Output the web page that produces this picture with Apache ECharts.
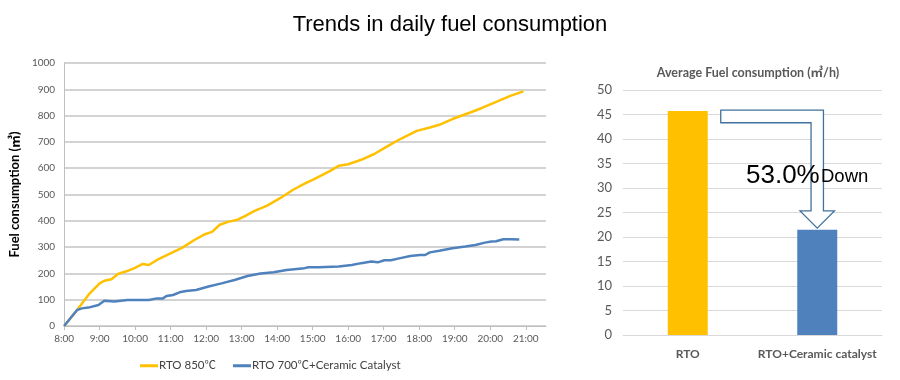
<!DOCTYPE html>
<html>
<head>
<meta charset="utf-8">
<script src="https://cdn.jsdelivr.net/npm/echarts@6/dist/echarts.min.js"></script>
<style>html,body{margin:0;padding:0;background:#fff;}#c{width:900px;height:380px;}</style>
</head>
<body>
<div id="c"></div>
<script>
// ---- data ----
const rtoTimes = ['8:00','8:22','8:41','9:00','9:08','9:20','9:31','9:44','9:59','10:13','10:23','10:37','10:58','11:20','11:40','11:59','12:10','12:23','12:37','12:53','13:04','13:21','13:43','14:05','14:27','14:48','15:00','15:28','15:44','16:00','16:22','16:44','17:06','17:28','17:56','18:18','18:34','18:56','19:24','19:46','20:08','20:35','20:56'];
const rtoValues = [0,61,118,162,172,178,198,207,220,236,232,251,274,298,327,350,358,385,396,404,416,437,458,486,518,543,556,588,609,615,632,654,683,711,742,755,765,787,810,829,850,876,892];
const catTimes = ['8:00','8:22','8:30','8:41','8:58','9:08','9:25','9:47','10:09','10:23','10:37','10:47','10:53','11:04','11:15','11:26','11:43','12:04','12:26','12:48','13:10','13:32','13:54','14:16','14:33','14:46','14:53','15:11','15:44','16:06','16:22','16:39','16:50','17:01','17:12','17:28','17:45','18:01','18:10','18:18','18:34','18:56','19:18','19:35','19:51','20:02','20:10','20:22','20:35','20:49'];
const catValues = [0,61,67,70,80,96,93,99,99,99,105,105,114,118,128,133,137,150,162,175,190,200,204,213,217,220,223,223,226,232,239,245,242,250,250,258,266,270,270,280,286,296,302,308,317,321,322,330,330,329];
const seriesNames = ['RTO 850℃', 'RTO 700℃+Ceramic Catalyst'];
const barCategories = ['RTO', 'RTO+Ceramic catalyst'];
const barValues = [45.7, 21.5];
const reductionText = '53.0%';

(function () {
const YELLOW = '#FFC000', BLUE = '#4F81BD', GRAY = '#595959';
function toHour(s){ const p = s.split(':'); return +p[0] + (+p[1])/60; }
function pairs(ts, vs){ return ts.map((t,i)=>[toHour(t), vs[i]]); }

const chart = echarts.init(document.getElementById('c'));
const option = {
  animation: false,
  backgroundColor: '#fff',
  textStyle: { fontFamily: '"Open Sans", "Noto Sans CJK JP", sans-serif' },
  title: [{
    text: 'Trends in daily fuel consumption',
    left: 'center', top: 9,
    textStyle: { fontFamily: '"Liberation Sans", Arial, sans-serif', fontSize: 22, fontWeight: 'normal', color: '#000' }
  }, {
    text: 'Average Fuel consumption (㎥/h)',
    left: 743, top: 62, textAlign: 'center',
    textStyle: { fontFamily: 'Lato, "Noto Sans CJK JP", sans-serif', fontSize: 12.5, fontWeight: 'bold', color: GRAY }
  }],
  legend: {
    left: 135, top: 355,
    itemWidth: 18, itemHeight: 3, itemGap: 17,
    icon: 'rect',
    textStyle: { fontFamily: 'Lato, "Noto Sans CJK JP", sans-serif', fontSize: 11.5, color: '#404040', padding: [0,0,0,-4] },
    data: seriesNames
  },
  grid: [
    { left: 52, right: 354, top: 63, bottom: 54 },
    { left: 623, right: 18, top: 90, bottom: 45 }
  ],
  xAxis: [{
    gridIndex: 0, type: 'value', min: 8, max: 21.57, interval: 1,
    axisLine: { show: true, lineStyle: { color: '#bfbfbf', width: 1 } },
    axisTick: { show: true, length: 4, lineStyle: { color: '#bfbfbf' } },
    splitLine: { show: false },
    axisLabel: { fontFamily: 'Lato, sans-serif', color: GRAY, fontSize: 10, margin: 8, showMaxLabel: false,
      formatter: v => Math.abs(v - Math.round(v)) < 1e-6 ? Math.round(v) + ':00' : '' }
  }, {
    gridIndex: 1, type: 'category', data: barCategories,
    axisLine: { show: true, lineStyle: { color: '#d9d9d9' } },
    axisTick: { show: false },
    axisLabel: { fontFamily: 'Lato, sans-serif', color: GRAY, fontSize: 12, fontWeight: 'bold', margin: 13, interval: 0 }
  }],
  yAxis: [{
    gridIndex: 0, type: 'value', min: 0, max: 1000, interval: 100,
    name: 'Fuel consumption (㎥)', nameLocation: 'middle', nameGap: 38,
    nameTextStyle: { fontFamily: 'Lato, "Noto Sans CJK JP", sans-serif', fontSize: 13, fontWeight: 'bold', color: '#000' },
    axisLine: { show: true, lineStyle: { color: '#bfbfbf' } },
    axisTick: { show: false },
    axisLabel: { fontFamily: 'Lato, sans-serif', color: GRAY, fontSize: 10, margin: 9, formatter: v => String(v) },
    splitLine: { lineStyle: { color: '#c4c4c4', width: 1.5 } }
  }, {
    gridIndex: 1, type: 'value', min: 0, max: 50, interval: 5,
    axisLine: { show: false }, axisTick: { show: false },
    axisLabel: { fontFamily: 'Lato, sans-serif', color: GRAY, fontSize: 13, margin: 11 },
    splitLine: { lineStyle: { color: '#d9d9d9', width: 1 } }
  }],
  series: [{
    name: seriesNames[0], type: 'line', xAxisIndex: 0, yAxisIndex: 0,
    data: pairs(rtoTimes, rtoValues), symbol: 'none',
    lineStyle: { color: YELLOW, width: 2.5 }, itemStyle: { color: YELLOW }, z: 3
  }, {
    name: seriesNames[1], type: 'line', xAxisIndex: 0, yAxisIndex: 0,
    data: pairs(catTimes, catValues), symbol: 'none',
    lineStyle: { color: BLUE, width: 2.5 }, itemStyle: { color: BLUE }, z: 4
  }, {
    type: 'bar', xAxisIndex: 1, yAxisIndex: 1, barWidth: 40,
    data: barValues.map((v,i)=>({ value: v, itemStyle: { color: i===0 ? YELLOW : BLUE } }))
  }]
};
chart.setOption(option);

// annotation arrow, positioned from the bar scale
const p1 = chart.convertToPixel({ xAxisIndex: 1, yAxisIndex: 1 }, [barCategories[0], barValues[0]]);
const p2 = chart.convertToPixel({ xAxisIndex: 1, yAxisIndex: 1 }, [barCategories[1], barValues[1]]);
const sx = p1[0] + 33, ay = p1[1] - 1, thick = 12.7;
const cx = p2[0], shaft = 6.2, head = 17.2, tip = p2[1] - 1.5, headBase = tip - 17.3;
chart.setOption({
  graphic: [{
    type: 'polygon', z: 10,
    shape: { points: [
      [sx, ay], [cx + shaft, ay], [cx + shaft, headBase], [cx + head, headBase],
      [cx, tip], [cx - head, headBase], [cx - shaft, headBase], [cx - shaft, ay + thick], [sx, ay + thick]
    ] },
    style: { fill: '#fff', stroke: '#41719C', lineWidth: 1.3 }
  }, {
    type: 'text', z: 11, x: 746, y: 176,
    style: { text: reductionText, fill: '#000', font: '26px "Liberation Sans", Arial, sans-serif', verticalAlign: 'middle', align: 'left' }
  }, {
    type: 'text', z: 11, x: 821, y: 177,
    style: { text: 'Down', fill: '#000', font: '18.5px "Liberation Sans", Arial, sans-serif', verticalAlign: 'middle', align: 'left' }
  }]
});
})();
</script>
</body>
</html>
